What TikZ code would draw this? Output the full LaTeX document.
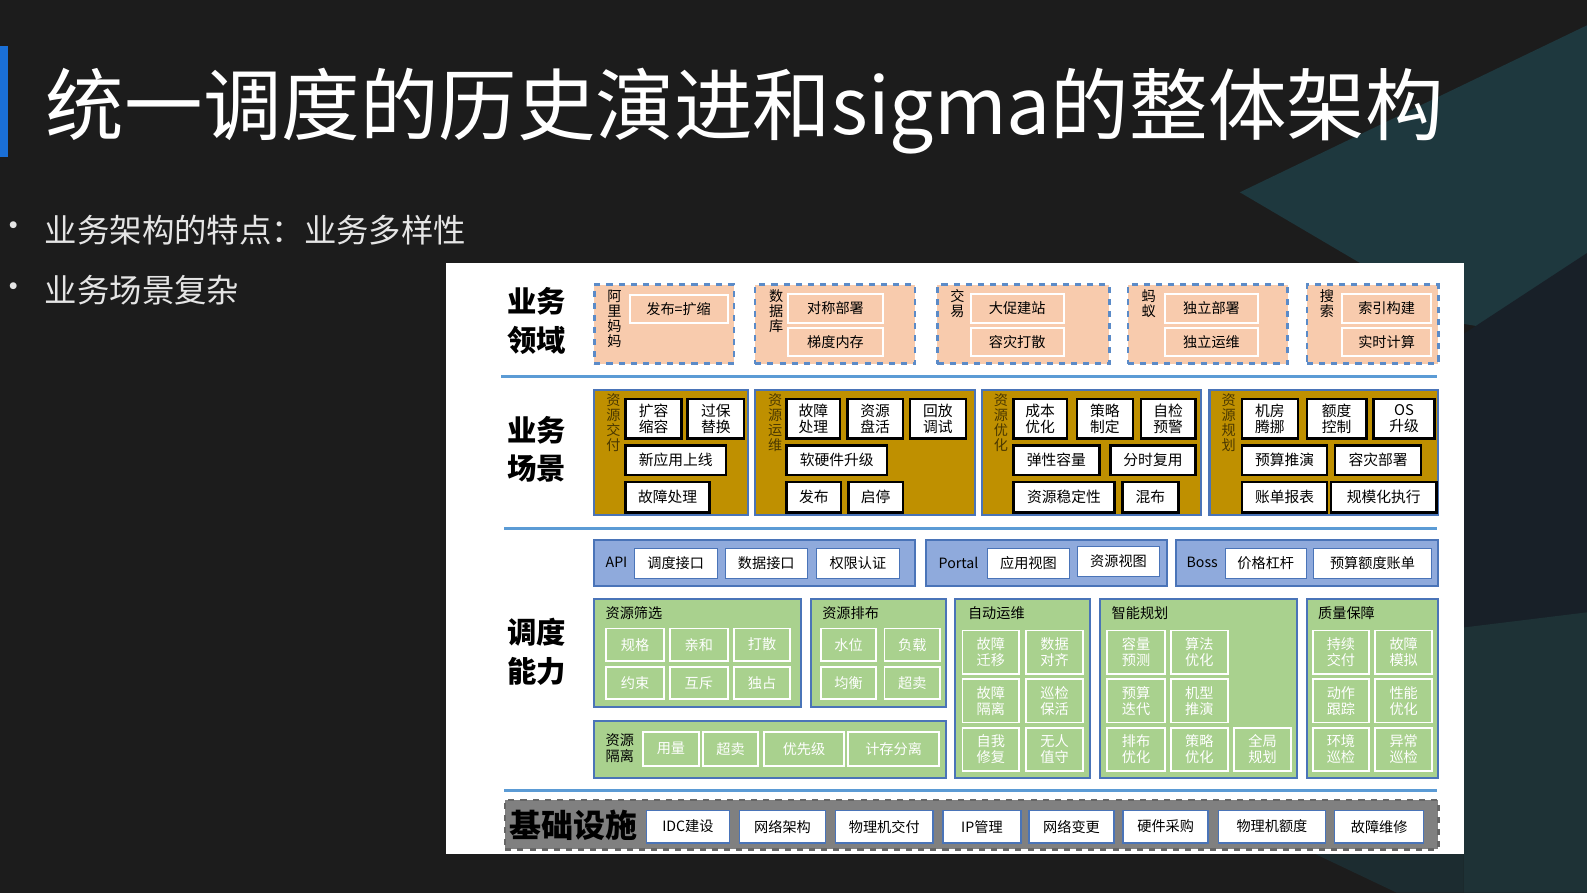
\documentclass[tikz,border=0pt]{standalone}
\usepackage{fontspec}
\setmainfont{Noto Sans CJK SC}
\definecolor{bgc}{HTML}{1C1C1C}
\definecolor{peach}{HTML}{F8CBAD}
\definecolor{dashb}{HTML}{5B8BC8}
\definecolor{gold}{HTML}{BF9000}
\definecolor{goldt}{HTML}{4A3800}
\definecolor{barb}{HTML}{8FAADC}
\definecolor{bord}{HTML}{4A74B8}
\definecolor{grn}{HTML}{A9D18E}
\definecolor{sep}{HTML}{5B9BD5}
\definecolor{titleb}{HTML}{1A6FD6}
\definecolor{tA}{RGB}{30,56,62}
\definecolor{tB}{RGB}{24,32,40}
\definecolor{tC}{RGB}{30,50,54}
\definecolor{tD}{RGB}{28,44,48}
\newcommand\bx[7]{\node[#1,anchor=north west,inner sep=0pt,minimum width={(#5-#3)*0.5pt},minimum height={(#6-#4)*0.5pt}] (#2) at (#3,#4) {#7};}
\tikzset{
 dom/.style={draw=dashb,dashed,line width=1.2pt,fill=peach},
 domin/.style={draw=white,line width=1pt,fill=peach,font=\fontsize{7}{8}\selectfont},
 scn/.style={draw=bord,line width=1pt,fill=gold},
 scnin/.style={draw=black,line width=1.2pt,fill=white,align=center,font=\fontsize{7.3}{8}\selectfont},
 bar/.style={draw=bord,line width=1pt,fill=barb},
 barin/.style={draw=bord,line width=0.6pt,fill=white,font=\fontsize{7}{8}\selectfont},
 gbox/.style={draw=bord,line width=1pt,fill=grn},
 gin/.style={draw=white,line width=0.9pt,fill=grn,text=white,align=center,font=\fontsize{7}{7.8}\selectfont},
 base/.style={draw=black!60,dashed,line width=1.2pt,fill=black!50},
 basein/.style={draw=bord,line width=0.7pt,fill=white,font=\fontsize{7}{8}\selectfont},
 vlab/.style={anchor=north,align=center,inner sep=0pt,font=\fontsize{7}{7.4}\selectfont},
 rowlab/.style={align=center,font=\fontsize{14.5}{19}\selectfont\bfseries},
 sepl/.style={draw=sep,line width=1.4pt},
 gtitle/.style={anchor=west,inner sep=0pt,font=\fontsize{7}{8}\selectfont}
}
\begin{document}
\begin{tikzpicture}[x=0.5pt,y=-0.5pt]
\useasboundingbox (0,0) rectangle (1568,882);
\fill[bgc] (0,0) rectangle (1568,882);
\fill[tA] (1225,190) -- (1568,25) -- (1568,340) -- (1446,320) -- cycle;
\fill[tB] (1446,330) -- (1568,250) -- (1568,882) -- (1446,882) -- cycle;
\fill[tC] (1446,620) -- (1568,605) -- (1568,882) -- (1446,882) -- cycle;
\fill[tD] (1300,844) -- (1446,844) -- (1446,882) -- (1380,882) -- cycle;
% title
\fill[titleb] (0,45) rectangle (8,155);
\node[anchor=west,text=white,inner sep=0pt,font=\fontsize{38.8}{42}\selectfont] (title) at (45,110) {统一调度的历史演进和sigma的整体架构};
\node[anchor=center,text=white!90!black,inner sep=1pt,font=\fontsize{16}{18}\selectfont] (d1) at (14,227) {•};
\node[anchor=west,text=white!90!black,inner sep=0pt,font=\fontsize{16}{18}\selectfont] (b1) at (44,227) {业务架构的特点：业务多样性};
\node[anchor=center,text=white!90!black,inner sep=1pt,font=\fontsize{16}{18}\selectfont] (d2) at (14,287) {•};
\node[anchor=west,text=white!90!black,inner sep=0pt,font=\fontsize{16}{18}\selectfont] (b2) at (44,287) {业务场景复杂};
% panel
\fill[white] (441,260) rectangle (1446,844);
\node[rowlab] (l1) at (530,317) {业务\\领域};
\node[rowlab] (l2) at (530,444) {业务\\场景};
\node[rowlab] (l3) at (530,644) {调度\\能力};
\coordinate (s1a) at (495,372); \coordinate (s1b) at (1420,372);
\coordinate (s2a) at (498,522); \coordinate (s2b) at (1420,522);
\coordinate (s3a) at (498,781); \coordinate (s3b) at (1420,781);
\draw[sepl] (s1a) -- (s1b); \draw[sepl] (s2a) -- (s2b); \draw[sepl] (s3a) -- (s3b);
% row 1
\bx{dom}{dA}{586}{280}{724}{358}{}
\node[vlab] (dAl) at (607,286) {阿\\里\\妈\\妈};
\bx{domin}{dA1}{621}{290}{718}{318}{发布=扩缩}
\bx{dom}{dB}{745}{280}{903}{358}{}
\node[vlab] (dBl) at (767,286) {数\\据\\库};
\bx{domin}{dB1}{778}{289}{871}{318}{对称部署}
\bx{domin}{dB2}{778}{323}{871}{351}{梯度内存}
\bx{dom}{dC}{925}{280}{1095}{358}{}
\node[vlab] (dCl) at (946,286) {交\\易};
\bx{domin}{dC1}{958}{289}{1050}{318}{大促建站}
\bx{domin}{dC2}{958}{323}{1050}{351}{容灾打散}
\bx{dom}{dD}{1113}{280}{1271}{358}{}
\node[vlab] (dDl) at (1135,286) {蚂\\蚁};
\bx{domin}{dD1}{1150}{289}{1242}{318}{独立部署}
\bx{domin}{dD2}{1150}{323}{1242}{351}{独立运维}
\bx{dom}{dE}{1290}{280}{1420}{358}{}
\node[vlab] (dEl) at (1311,286) {搜\\索};
\bx{domin}{dE1}{1325}{289}{1413}{318}{索引构建}
\bx{domin}{dE2}{1325}{323}{1413}{351}{实时计算}
% row 2
\bx{scn}{g1}{586}{384}{738}{508}{}
\node[vlab,text=goldt] (g1l) at (606,389) {资\\源\\交\\付};
\bx{scnin}{g11}{617}{393}{672}{432}{扩容\\缩容}
\bx{scnin}{g12}{678}{393}{734}{432}{过保\\替换}
\bx{scnin}{g13}{617}{439}{716}{468}{新应用上线}
\bx{scnin}{g14}{617}{475}{700}{505}{故障处理}
\bx{scn}{g2}{745}{384}{962}{508}{}
\node[vlab,text=goldt] (g2l) at (766,389) {资\\源\\运\\维};
\bx{scnin}{g21}{776}{393}{829}{432}{故障\\处理}
\bx{scnin}{g22}{836}{393}{891}{432}{资源\\盘活}
\bx{scnin}{g23}{898}{393}{953}{432}{回放\\调试}
\bx{scnin}{g24}{776}{439}{875}{468}{软硬件升级}
\bx{scnin}{g25}{776}{475}{830}{505}{发布}
\bx{scnin}{g26}{837}{475}{891}{505}{启停}
\bx{scn}{g3}{969}{384}{1186}{508}{}
\node[vlab,text=goldt] (g3l) at (989,389) {资\\源\\优\\化};
\bx{scnin}{g31}{1000}{393}{1053}{432}{成本\\优化}
\bx{scnin}{g32}{1063}{393}{1118}{432}{策略\\制定}
\bx{scnin}{g33}{1126}{393}{1180}{432}{自检\\预警}
\bx{scnin}{g34}{1000}{439}{1085}{468}{弹性容量}
\bx{scnin}{g35}{1096}{439}{1180}{468}{分时复用}
\bx{scnin}{g36}{1000}{475}{1100}{505}{资源稳定性}
\bx{scnin}{g37}{1108}{475}{1163}{505}{混布}
\bx{scn}{g4}{1194}{384}{1420}{508}{}
\node[vlab,text=goldt] (g4l) at (1214,389) {资\\源\\规\\划};
\bx{scnin}{g41}{1226}{393}{1281}{432}{机房\\腾挪}
\bx{scnin}{g42}{1290}{393}{1349}{432}{额度\\控制}
\bx{scnin}{g43}{1356}{393}{1416}{432}{OS\\升级}
\bx{scnin}{g44}{1226}{439}{1310}{468}{预算推演}
\bx{scnin}{g45}{1318}{439}{1403}{468}{容灾部署}
\bx{scnin}{g46}{1226}{475}{1310}{505}{账单报表}
\bx{scnin}{g47}{1314}{475}{1418}{505}{规模化执行}
% row 3 bars
\bx{bar}{api}{586}{533}{903}{578}{}
\node[gtitle] (apil) at (598,556) {API};
\bx{barin}{a1}{626}{541}{708}{571}{调度接口}
\bx{barin}{a2}{716}{541}{797}{571}{数据接口}
\bx{barin}{a3}{806}{541}{888}{571}{权限认证}
\bx{bar}{por}{914}{533}{1152}{578}{}
\node[gtitle] (porl) at (927,556) {Portal};
\bx{barin}{p1}{975}{541}{1056}{571}{应用视图}
\bx{barin}{p2}{1064}{539}{1145}{569}{资源视图}
\bx{bar}{bos}{1161}{533}{1420}{578}{}
\node[gtitle] (bosl) at (1172,556) {Boss};
\bx{barin}{o1}{1210}{541}{1290}{571}{价格杠杆}
\bx{barin}{o2}{1297}{541}{1414}{571}{预算额度账单}
% green
\bx{gbox}{sx}{586}{591}{790}{698}{}
\node[gtitle] (sxl) at (598,606) {资源筛选};
\bx{gin}{sx1}{598}{620}{655}{652}{规格}
\bx{gin}{sx2}{661}{620}{718}{652}{亲和}
\bx{gin}{sx3}{724}{620}{780}{652}{打散}
\bx{gin}{sx4}{598}{658}{655}{690}{约束}
\bx{gin}{sx5}{661}{658}{718}{690}{互斥}
\bx{gin}{sx6}{724}{658}{780}{690}{独占}
\bx{gbox}{pb}{800}{591}{934}{698}{}
\node[gtitle] (pbl) at (812,606) {资源排布};
\bx{gin}{pb1}{810}{620}{865}{652}{水位}
\bx{gin}{pb2}{873}{620}{928}{652}{负载}
\bx{gin}{pb3}{810}{658}{865}{690}{均衡}
\bx{gin}{pb4}{873}{658}{928}{690}{超卖}
\bx{gbox}{gl}{586}{711}{934}{768}{}
\node[anchor=west,align=left,inner sep=0pt,font=\fontsize{7}{8}\selectfont] (gll) at (598,739) {资源\\隔离};
\bx{gin}{gl1}{634}{722}{690}{756}{用量}
\bx{gin}{gl2}{694}{722}{748}{756}{超卖}
\bx{gin}{gl3}{754}{722}{833}{756}{优先级}
\bx{gin}{gl4}{837}{722}{927}{756}{计存分离}
\bx{gbox}{zd}{943}{591}{1076}{768}{}
\node[gtitle] (zdl) at (956,606) {自动运维};
\bx{gin}{zd1}{950}{622}{1006}{665}{故障\\迁移}
\bx{gin}{zd2}{1013}{622}{1069}{665}{数据\\对齐}
\bx{gin}{zd3}{950}{670}{1006}{713}{故障\\隔离}
\bx{gin}{zd4}{1013}{670}{1069}{713}{巡检\\保活}
\bx{gin}{zd5}{950}{718}{1006}{761}{自我\\修复}
\bx{gin}{zd6}{1013}{718}{1069}{761}{无人\\值守}
\bx{gbox}{zn}{1086}{591}{1280}{768}{}
\node[gtitle] (znl) at (1098,606) {智能规划};
\bx{gin}{zn1}{1093}{622}{1150}{665}{容量\\预测}
\bx{gin}{zn2}{1156}{622}{1212}{665}{算法\\优化}
\bx{gin}{zn3}{1093}{670}{1150}{713}{预算\\迭代}
\bx{gin}{zn4}{1156}{670}{1212}{713}{机型\\推演}
\bx{gin}{zn5}{1093}{718}{1150}{761}{排布\\优化}
\bx{gin}{zn6}{1156}{718}{1212}{761}{策略\\优化}
\bx{gin}{zn7}{1218}{718}{1275}{761}{全局\\规划}
\bx{gbox}{zl}{1290}{591}{1420}{768}{}
\node[gtitle] (zll) at (1302,606) {质量保障};
\bx{gin}{zl1}{1296}{622}{1352}{665}{持续\\交付}
\bx{gin}{zl2}{1358}{622}{1414}{665}{故障\\模拟}
\bx{gin}{zl3}{1296}{670}{1352}{713}{动作\\跟踪}
\bx{gin}{zl4}{1358}{670}{1414}{713}{性能\\优化}
\bx{gin}{zl5}{1296}{718}{1352}{761}{环境\\巡检}
\bx{gin}{zl6}{1358}{718}{1414}{761}{异常\\巡检}
% base
\bx{base}{bs}{498}{789}{1420}{838}{}
\node[anchor=west,inner sep=0pt,font=\fontsize{15.8}{17}\selectfont\bfseries] (bsl) at (503,815) {基础设施};
\bx{basein}{bs1}{638}{800}{720}{832}{IDC建设}
\bx{basein}{bs2}{730}{800}{815}{832}{网络架构}
\bx{basein}{bs3}{825}{800}{921}{832}{物理机交付}
\bx{basein}{bs4}{931}{800}{1008}{832}{IP管理}
\bx{basein}{bs5}{1016}{800}{1100}{832}{网络变更}
\bx{basein}{bs6}{1109}{800}{1193}{832}{硬件采购}
\bx{basein}{bs7}{1203}{800}{1309}{832}{物理机额度}
\bx{basein}{bs8}{1318}{800}{1406}{832}{故障维修}
\end{tikzpicture}
\end{document}
